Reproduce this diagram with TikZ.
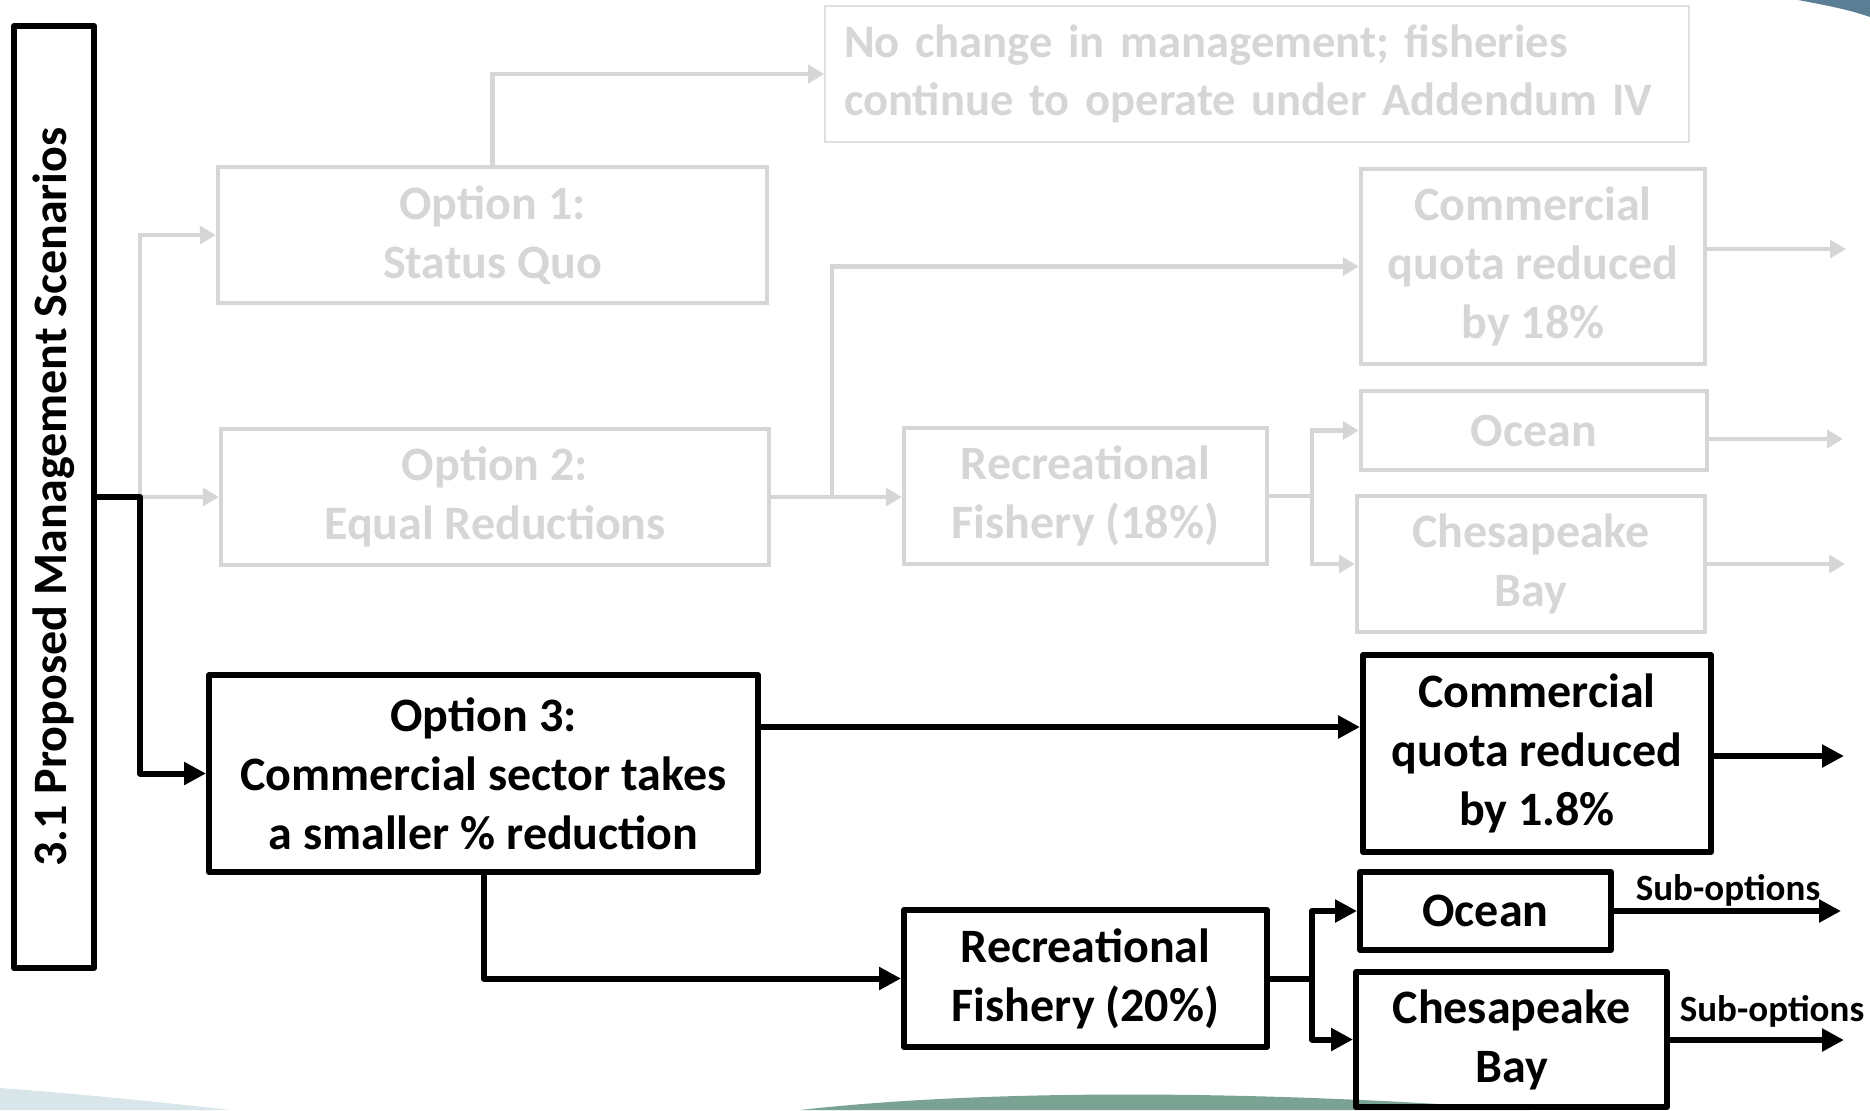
\documentclass[tikz,border=0pt]{standalone}
\usepackage{fontspec}
\setmainfont{Carlito}
\usepackage{graphicx}
\usetikzlibrary{arrows.meta,calc}
\definecolor{lg}{HTML}{D6D6D6}
\definecolor{lgb}{HTML}{E0E0E0}
\definecolor{teal1}{HTML}{7AA394}
\definecolor{slate}{HTML}{5A7E94}
\definecolor{pale}{HTML}{D8E5E9}
\begin{document}
\begin{tikzpicture}[x=0.5pt,y=-0.5pt,
 txt/.style={font=\fontsize{24}{29.5}\selectfont\bfseries, align=center, inner sep=0pt},
 bbox/.style={txt, draw=black, line width=3pt, rectangle, line join=round},
 gbox/.style={txt, draw=lg, text=lg, line width=2.2pt, rectangle},
 bline/.style={draw=black, line width=3pt, line join=round, -{Triangle[length=11pt,width=11pt]}},
 bseg/.style={draw=black, line width=3pt},
 gline/.style={draw=lg, line width=2.2pt, -{Triangle[length=8pt,width=9pt]}},
 gseg/.style={draw=lg, line width=2.2pt},
 sub/.style={font=\fontsize{18.5}{21}\selectfont\bfseries, inner sep=0pt}
]
\useasboundingbox (0,0) rectangle (1870,1110);
% background decoration
\fill[pale] (0,1088) .. controls (80,1094) and (160,1102) .. (230,1110) -- (0,1110) -- cycle;
\fill[teal1] (800,1110) .. controls (950,1093) and (1200,1086) .. (1530,1110) -- cycle;
\fill[slate] (1798,0) .. controls (1830,6) and (1850,10) .. (1870,17) -- (1870,0) -- cycle;

% nodes
\node[bbox, minimum width=40pt, minimum height=471pt] (title) at (54,497) {\rotatebox{90}{3.1 Proposed Management Scenarios}};
\node[txt, font=\fontsize{23.3}{29}\selectfont\bfseries, draw=lgb, text=lg, line width=0.8pt, align=left, inner xsep=9.5pt, text width=413pt, minimum height=68pt] (note) at (1257,74) {No change in management; fisheries\\continue to operate under Addendum IV};
\node[gbox, minimum width=274.5pt, minimum height=68pt] (opt1) at (492.5,235) {Option 1:\\Status Quo};
\node[gbox, minimum width=274pt, minimum height=68pt] (opt2) at (495,497) {Option 2:\\Equal Reductions};
\node[gbox, minimum width=172pt, minimum height=97.5pt] (com18) at (1533,266.5) {Commercial\\quota reduced\\by 18\%};
\node[gbox, minimum width=173pt, minimum height=39.5pt] (ocean18) at (1534,430.5) {Ocean};
\node[gbox, minimum width=174pt, minimum height=68pt] (ches18) at (1531,564) {Chesapeake\\Bay};
\node[gbox, minimum width=181.5pt, minimum height=68pt] (rec18) at (1085.5,496) {Recreational\\Fishery (18\%)};

\node[bbox, minimum width=274.5pt, minimum height=98.5pt] (opt3) at (483.5,773.5) {Option 3:\\Commercial sector takes\\a smaller \% reduction};
\node[bbox, minimum width=174pt, minimum height=98.5pt] (com18b) at (1537,753.5) {Commercial\\quota reduced\\by 1.8\%};
\node[bbox, minimum width=125.5pt, minimum height=39pt] (oceanB) at (1485.5,911) {Ocean};
\node[bbox, minimum width=155.5pt, minimum height=67.5pt] (chesB) at (1511.5,1039.5) {Chesapeake\\Bay};
\node[bbox, minimum width=181.5pt, minimum height=68.5pt] (rec20) at (1085.5,978.5) {Recreational\\Fishery (20\%)};

% junctions and free ends
\coordinate (j0) at (140,497);
\coordinate (j1) at (832,497);
\coordinate (j2) at (1312,496);
\coordinate (j3) at (1312,978.5);
\coordinate (e1) at (1846,249);
\coordinate (e2) at (1843,439);
\coordinate (e3) at (1845,564);
\coordinate (e4) at (1844,756);
\coordinate (e5) at (1841,911);
\coordinate (e6) at (1844,1040);
\coordinate (h1) at (0,727);

% gray connectors
\draw[gline] (j0) |- (opt1.west);
\draw[gline] (j0) -- (opt2.west);
\draw[gline] (opt1.north) |- (note.west);
\draw[gline] (opt2.east) -- (rec18.west |- opt2.east);
\draw[gline] (j1) |- (com18.west);
\draw[gseg] (rec18.east) -- (j2);
\draw[gline] (j2) |- (ocean18.west);
\draw[gline] (j2) |- (ches18.west);
\draw[gline] (com18.east |- e1) -- (e1);
\draw[gline] (ocean18.east |- e2) -- (e2);
\draw[gline] (ches18.east |- e3) -- (e3);

% black connectors
\draw[bline] (title.east) -- (j0) |- (opt3.west);
\draw[bline] (opt3.east |- h1) -- (com18b.west |- h1);
\draw[bline] (com18b.east |- e4) -- (e4);
\draw[bline] (opt3.south) |- (rec20.west);
\draw[bseg] (rec20.east) -- (j3);
\draw[bline] (j3) |- (oceanB.west);
\draw[bline] (j3) |- (chesB.west);
\draw[bline] (oceanB.east |- e5) -- (e5);
\draw[bline] (chesB.east |- e6) -- (e6);
\node[sub] (sub1) at (1728,890) {Sub-options};
\node[sub] (sub2) at (1772,1011) {Sub-options};
\end{tikzpicture}
\end{document}
